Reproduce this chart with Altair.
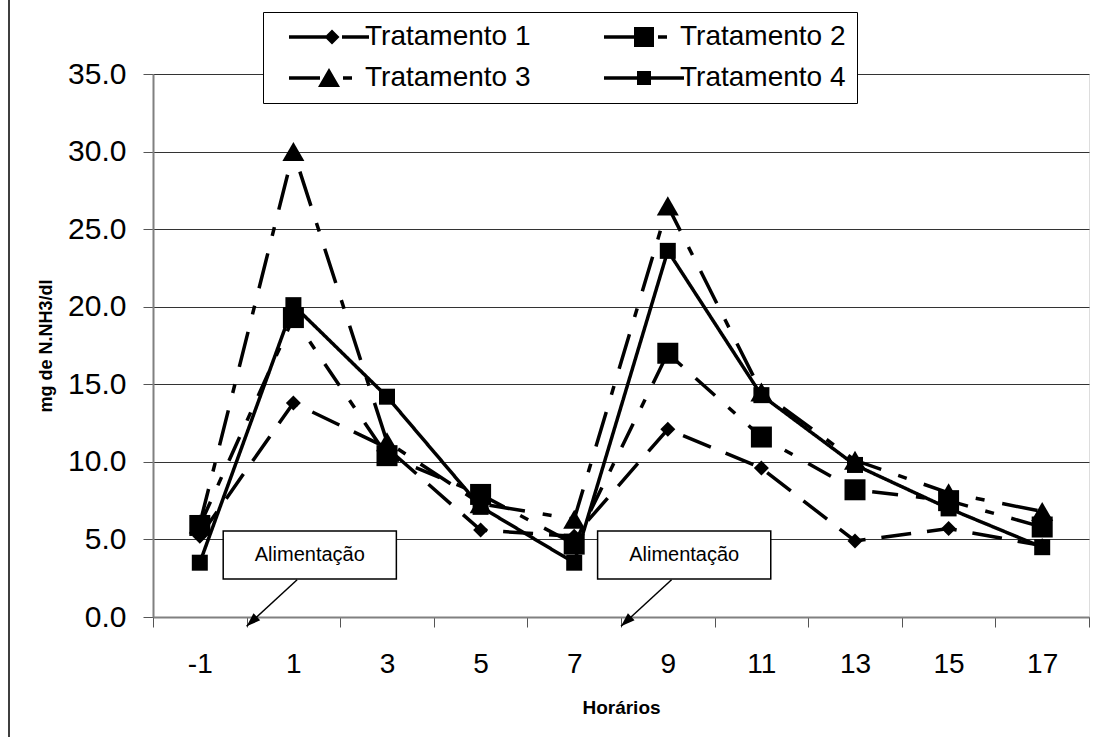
import altair as alt
import pandas as pd

# ---------------- data ----------------
horarios = [-1, 1, 3, 5, 7, 9, 11, 13, 15, 17]
series_names = ["Tratamento 1", "Tratamento 2", "Tratamento 3", "Tratamento 4"]
trat1 = [5.2, 13.8, 10.9, 5.6, 5.2, 12.1, 9.6, 4.9, 5.7, 4.6]
trat2 = [5.9, 19.3, 10.4, 7.9, 4.7, 17.0, 11.6, 8.2, 7.5, 5.8]
trat3 = [6.0, 30.0, 11.3, 7.3, 6.3, 26.5, 14.5, 10.1, 8.0, 6.8]
trat4 = [3.5, 20.1, 14.2, 7.1, 3.5, 23.6, 14.3, 9.8, 7.0, 4.5]

y_ticks = [0, 5, 10, 15, 20, 25, 30, 35]
x_boundaries = [-2, 0, 2, 4, 6, 8, 10, 12, 14, 16, 18]

box_labels = ["Alimentação", "Alimentação"]
box_x0 = [-0.5, 7.5]
box_x1 = [3.2, 11.2]
box_y0 = [2.45, 2.45]
box_y1 = [5.54, 5.54]
arrow_x0 = [1.08, 9.08]
arrow_y0 = [2.4, 2.4]
arrow_x1 = [0.0, 8.0]
arrow_y1 = [-0.6, -0.6]

# ---------------- tables ----------------
rows = []
for name, vals in zip(series_names, [trat1, trat2, trat3, trat4]):
    for h, v in zip(horarios, vals):
        rows.append({"serie": name, "x": h, "y": v})
df = pd.DataFrame(rows)

boxes = pd.DataFrame({"label": box_labels, "x0": box_x0, "x1": box_x1,
                      "y0": box_y0, "y1": box_y1})
boxes["xc"] = (boxes["x0"] + boxes["x1"]) / 2
boxes["yc"] = (boxes["y0"] + boxes["y1"]) / 2
arrows = pd.DataFrame({"x0": arrow_x0, "y0": arrow_y0, "x1": arrow_x1, "y1": arrow_y1})

FONT = "Liberation Sans"
xscale = alt.Scale(domain=[-2, 18], nice=False, zero=False)
yscale = alt.Scale(domain=[0, 35], nice=False, zero=False)

dashes = [[30, 16], [26, 18, 9, 18], [36, 18, 9, 18], [1, 0]]
shapes = ["diamond", "square", "triangle-up", "square"]
sizes = [225, 441, 484, 256]
# legend glyphs: line pieces drawn as thin filled bars + marker
legend_paths = [
    "M-4,-0.18H-0.3V0.18H-4Z M1.3,-0.18H4V0.18H1.3Z M0.3,-0.75L1.05,0L0.3,0.75L-0.45,0Z",
    "M-4,-0.18H-0.9V0.18H-4Z M1.4,-0.18H2.3V0.18H1.4Z M-1,-1H1V1H-1Z",
    "M-4,-0.18H-0.9V0.18H-4Z M1.4,-0.18H2.3V0.18H1.4Z M0,-1L1.1,0.9L-1.1,0.9Z",
    "M-4,-0.18H4V0.18H-4Z M-0.7,-0.7H0.7V0.7H-0.7Z",
]

border = alt.Chart(alt.Data(values=[{"k": 1}])).mark_rect(
    fillOpacity=0, stroke="black", strokeWidth=1.5
).encode(x=alt.value(-144), x2=alt.value(1200), y=alt.value(-200), y2=alt.value(900))

lines = alt.Chart(df).mark_line(strokeWidth=3.5, color="black").encode(
    x=alt.X("x:Q", scale=xscale, axis=alt.Axis(
        values=x_boundaries, labels=False, tickSize=10, tickColor="#555555",
        domainColor="#808080", domainWidth=2, grid=False, title=None, orient="bottom")),
    y=alt.Y("y:Q", scale=yscale, axis=alt.Axis(
        values=y_ticks, format=".1f", labelFontSize=30, labelFont=FONT, labelColor="black",
        labelPadding=17, tickSize=10, tickColor="#555555", domainColor="#808080",
        domainWidth=2, grid=True, gridColor="#333333", gridWidth=1, orient="left",
        title="mg de N.NH3/dl", titleFontSize=18, titleFont=FONT, titleFontWeight="bold",
        titleColor="black", titlePadding=12)),
    strokeDash=alt.StrokeDash("serie:N", scale=alt.Scale(domain=series_names, range=dashes),
                              legend=None),
    order=alt.Order("x:Q"),
)

points = alt.Chart(df).mark_point(filled=True, color="black", opacity=1).encode(
    x=alt.X("x:Q", scale=xscale, axis=alt.Axis(
        values=horarios, ticks=False, domain=False, labelFontSize=28, labelFont=FONT,
        labelColor="black", labelPadding=33, grid=False, labelFlush=False,
        labelExpr="'' + datum.value",
        labelOverlap=False, title="Horários", titleFontSize=19, titleFont=FONT,
        titleFontWeight="bold", titleColor="black", titlePadding=20, orient="bottom")),
    y=alt.Y("y:Q", scale=yscale, axis=None),
    shape=alt.Shape("serie:N", scale=alt.Scale(domain=series_names, range=shapes), legend=None),
    size=alt.Size("serie:N", scale=alt.Scale(type="ordinal", domain=series_names, range=sizes),
                  legend=None),
)

legend_layer = alt.Chart(df).transform_filter(alt.datum.x == -1).transform_calculate(
    ly="-100"
).mark_point(filled=True, color="black", clip=True, opacity=1).encode(
    x=alt.X("x:Q", scale=xscale, axis=None),
    y=alt.Y("ly:Q", scale=yscale, axis=None),
    shape=alt.Shape("serie:N", scale=alt.Scale(domain=series_names, range=legend_paths),
                    legend=alt.Legend(
                        title=None, orient="none", legendX=110, legendY=-62, columns=2,
                        direction="horizontal",
                        symbolSize=400, symbolOffset=41, labelOffset=22, labelFontSize=28,
                        labelFont=FONT, labelColor="black", strokeColor="black",
                        fillColor="white", padding=11, rowPadding=13, columnPadding=58,
                        symbolFillColor="black", symbolStrokeWidth=0,
                        symbolOpacity=1, labelLimit=400)),
)

box_rect = alt.Chart(boxes).mark_rect(fill="white", stroke="black", strokeWidth=1.5).encode(
    x=alt.X("x0:Q", scale=xscale, axis=None), x2="x1:Q",
    y=alt.Y("y0:Q", scale=yscale, axis=None), y2="y1:Q",
)
box_text = alt.Chart(boxes).mark_text(fontSize=20, font=FONT, color="black").encode(
    x=alt.X("xc:Q", scale=xscale, axis=None),
    y=alt.Y("yc:Q", scale=yscale, axis=None),
    text="label:N",
)
arrow_line = alt.Chart(arrows).mark_rule(color="black", strokeWidth=1.5).encode(
    x=alt.X("x0:Q", scale=xscale, axis=None), x2="x1:Q",
    y=alt.Y("y0:Q", scale=yscale, axis=None), y2="y1:Q",
)
arrow_head = alt.Chart(arrows).mark_point(
    filled=True, color="black", opacity=1, shape="M0,0L0.7,2L-0.7,2Z", size=196, angle=227
).encode(
    x=alt.X("x1:Q", scale=xscale, axis=None),
    y=alt.Y("y1:Q", scale=yscale, axis=None),
)

chart = alt.layer(
    border, lines, points, legend_layer, box_rect, box_text, arrow_line, arrow_head
).resolve_scale(shape="independent").resolve_axis(x="independent", y="independent").properties(
    width=936, height=543,
    autosize=alt.AutoSizeParams(type="none"),
    padding={"left": 153, "top": 74, "right": 8, "bottom": 120},
    background="white",
).configure_view(stroke="#808080", strokeWidth=2).configure(font=FONT)

chart.save("out.html", embed_options={"renderer": "svg", "actions": False})
